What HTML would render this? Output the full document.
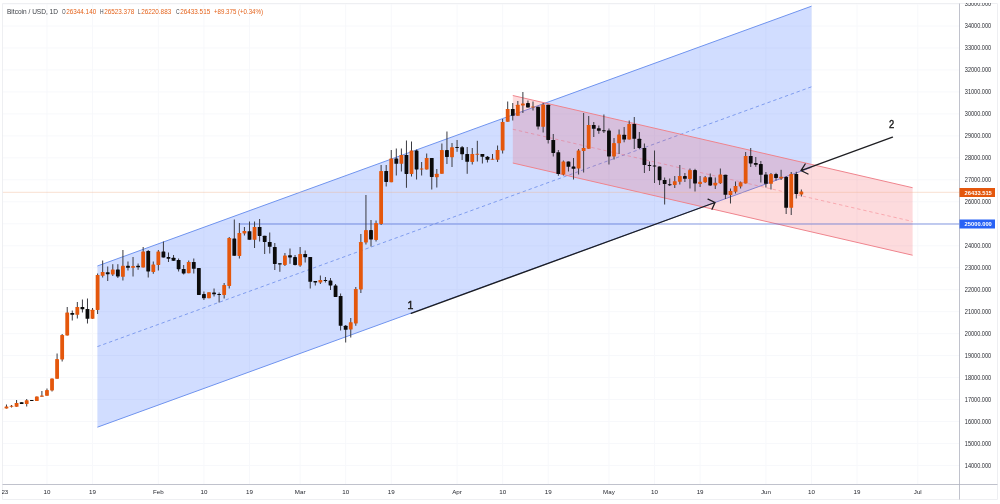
<!DOCTYPE html>
<html lang="en"><head><meta charset="utf-8"><title>Bitcoin / USD, 1D</title>
<style>html,body{margin:0;padding:0;background:#fff;}body{width:1000px;height:504px;overflow:hidden;}svg{display:block;}</style>
</head><body>
<svg width="1000" height="504" viewBox="0 0 1000 504" font-family='"Liberation Sans", Arial, sans-serif'>
<rect width="1000" height="504" fill="#fff"/>
<g style="filter:blur(0.4px)">
<path d="M2.5 465.50H959.5 M2.5 443.53H959.5 M2.5 421.55H959.5 M2.5 399.58H959.5 M2.5 377.60H959.5 M2.5 355.62H959.5 M2.5 333.65H959.5 M2.5 311.68H959.5 M2.5 289.70H959.5 M2.5 267.73H959.5 M2.5 245.75H959.5 M2.5 223.78H959.5 M2.5 201.80H959.5 M2.5 179.83H959.5 M2.5 157.85H959.5 M2.5 135.88H959.5 M2.5 113.90H959.5 M2.5 91.93H959.5 M2.5 69.95H959.5 M2.5 47.98H959.5 M2.5 26.00H959.5 M2.5 4.02H959.5 M46.97 3.5V484 M92.53 3.5V484 M158.35 3.5V484 M203.92 3.5V484 M249.49 3.5V484 M300.12 3.5V484 M345.68 3.5V484 M391.25 3.5V484 M457.07 3.5V484 M502.64 3.5V484 M548.20 3.5V484 M608.96 3.5V484 M654.53 3.5V484 M700.09 3.5V484 M765.91 3.5V484 M811.48 3.5V484 M857.05 3.5V484 M917.80 3.5V484" stroke="#f7f8fb" stroke-width="1" fill="none"/>
<polygon points="97.4,266.0 811.5,6.2 811.5,167.4 97.4,427.2" fill="rgba(41,98,255,0.215)"/>
<path d="M97.4 266.0L811.5 6.2M97.4 427.2L811.5 167.4" stroke="#6f93ee" stroke-width="1" fill="none"/>
<path d="M97.4 346.6L811.5 86.8" stroke="#7f9cee" stroke-width="1" stroke-dasharray="3.4 2.8" fill="none"/>
<polygon points="512.8,95.5 912.6,187.73 912.6,255.23 512.8,163.0" fill="rgba(242,54,69,0.18)"/>
<path d="M512.8 95.5L912.6 187.73M512.8 163.0L912.6 255.23" stroke="#ef848d" stroke-width="1" fill="none"/>
<path d="M512.8 129.25L912.6 221.48" stroke="rgba(242,80,95,0.36)" stroke-width="1" stroke-dasharray="3.4 2.8" fill="none"/>
<path d="M240 224H959.5" stroke="rgba(70,100,210,0.33)" stroke-width="1.9" fill="none"/>
<path d="M2.5 192.3H959.5" stroke="#eeb08c" stroke-width="0.8" stroke-dasharray="1 1" fill="none"/>
<path d="M1.40 408.5V409.5" stroke="#3a3a40" stroke-width="1"/>
<rect x="-0.50" y="408.5" width="3.8" height="1.00" fill="#e4570c" rx="0.4"/>
<path d="M6.46 404.5V408.5" stroke="#3a3a40" stroke-width="1"/>
<rect x="4.56" y="406.5" width="3.8" height="2.00" fill="#e4570c" rx="0.4"/>
<path d="M11.53 405.0V407.5" stroke="#3a3a40" stroke-width="1"/>
<rect x="9.63" y="405.8" width="3.8" height="1.00" fill="#e4570c" rx="0.4"/>
<path d="M16.59 400.0V406.8" stroke="#3a3a40" stroke-width="1"/>
<rect x="14.69" y="403.0" width="3.8" height="3.80" fill="#e4570c" rx="0.4"/>
<path d="M21.65 402.2V404.0" stroke="#3a3a40" stroke-width="1"/>
<rect x="19.75" y="402.2" width="3.8" height="1.80" fill="#0b0b0b" rx="0.4"/>
<path d="M26.71 399.0V406.5" stroke="#3a3a40" stroke-width="1"/>
<rect x="24.81" y="400.3" width="3.8" height="3.70" fill="#e4570c" rx="0.4"/>
<path d="M31.78 400.0V401.0" stroke="#3a3a40" stroke-width="1"/>
<rect x="29.88" y="400.0" width="3.8" height="1.00" fill="#0b0b0b" rx="0.4"/>
<path d="M36.84 396.5V401.0" stroke="#3a3a40" stroke-width="1"/>
<rect x="34.94" y="396.5" width="3.8" height="4.50" fill="#e4570c" rx="0.4"/>
<path d="M41.90 391.0V396.8" stroke="#3a3a40" stroke-width="1"/>
<rect x="40.00" y="395.5" width="3.8" height="1.30" fill="#e4570c" rx="0.4"/>
<path d="M46.97 388.5V395.8" stroke="#3a3a40" stroke-width="1"/>
<rect x="45.07" y="390.0" width="3.8" height="5.80" fill="#e4570c" rx="0.4"/>
<path d="M52.03 378.5V391.5" stroke="#3a3a40" stroke-width="1"/>
<rect x="50.13" y="378.5" width="3.8" height="12.00" fill="#e4570c" rx="0.4"/>
<path d="M57.09 353.5V378.8" stroke="#3a3a40" stroke-width="1"/>
<rect x="55.19" y="359.0" width="3.8" height="19.80" fill="#e4570c" rx="0.4"/>
<path d="M62.16 334.0V361.5" stroke="#3a3a40" stroke-width="1"/>
<rect x="60.26" y="335.0" width="3.8" height="24.50" fill="#e4570c" rx="0.4"/>
<path d="M67.22 307.0V335.5" stroke="#3a3a40" stroke-width="1"/>
<rect x="65.32" y="312.5" width="3.8" height="23.00" fill="#e4570c" rx="0.4"/>
<path d="M72.28 310.5V320.5" stroke="#3a3a40" stroke-width="1"/>
<rect x="70.38" y="313.0" width="3.8" height="1.80" fill="#0b0b0b" rx="0.4"/>
<path d="M77.34 302.0V318.5" stroke="#3a3a40" stroke-width="1"/>
<rect x="75.44" y="307.0" width="3.8" height="7.80" fill="#e4570c" rx="0.4"/>
<path d="M82.41 299.5V312.5" stroke="#3a3a40" stroke-width="1"/>
<rect x="80.51" y="307.0" width="3.8" height="2.30" fill="#0b0b0b" rx="0.4"/>
<path d="M87.47 298.5V323.5" stroke="#3a3a40" stroke-width="1"/>
<rect x="85.57" y="309.0" width="3.8" height="9.80" fill="#0b0b0b" rx="0.4"/>
<path d="M92.53 308.0V318.8" stroke="#3a3a40" stroke-width="1"/>
<rect x="90.63" y="309.8" width="3.8" height="9.00" fill="#e4570c" rx="0.4"/>
<path d="M97.60 273.5V314.0" stroke="#3a3a40" stroke-width="1"/>
<rect x="95.70" y="275.0" width="3.8" height="35.00" fill="#e4570c" rx="0.4"/>
<path d="M102.66 260.5V277.5" stroke="#3a3a40" stroke-width="1"/>
<rect x="100.76" y="272.0" width="3.8" height="3.80" fill="#e4570c" rx="0.4"/>
<path d="M107.72 266.5V281.0" stroke="#3a3a40" stroke-width="1"/>
<rect x="105.82" y="272.3" width="3.8" height="1.90" fill="#0b0b0b" rx="0.4"/>
<path d="M112.79 264.2V276.0" stroke="#3a3a40" stroke-width="1"/>
<rect x="110.89" y="269.5" width="3.8" height="5.00" fill="#e4570c" rx="0.4"/>
<path d="M117.85 264.2V278.0" stroke="#3a3a40" stroke-width="1"/>
<rect x="115.95" y="269.5" width="3.8" height="7.00" fill="#0b0b0b" rx="0.4"/>
<path d="M122.91 250.0V280.5" stroke="#3a3a40" stroke-width="1"/>
<rect x="121.01" y="265.8" width="3.8" height="11.00" fill="#e4570c" rx="0.4"/>
<path d="M127.97 261.5V270.5" stroke="#3a3a40" stroke-width="1"/>
<rect x="126.07" y="265.8" width="3.8" height="2.00" fill="#0b0b0b" rx="0.4"/>
<path d="M133.04 257.0V276.5" stroke="#3a3a40" stroke-width="1"/>
<rect x="131.14" y="266.0" width="3.8" height="1.80" fill="#e4570c" rx="0.4"/>
<path d="M138.10 263.5V269.8" stroke="#3a3a40" stroke-width="1"/>
<rect x="136.20" y="265.7" width="3.8" height="1.60" fill="#0b0b0b" rx="0.4"/>
<path d="M143.16 247.0V267.5" stroke="#3a3a40" stroke-width="1"/>
<rect x="141.26" y="251.5" width="3.8" height="16.00" fill="#e4570c" rx="0.4"/>
<path d="M148.23 250.0V277.5" stroke="#3a3a40" stroke-width="1"/>
<rect x="146.33" y="251.0" width="3.8" height="20.50" fill="#0b0b0b" rx="0.4"/>
<path d="M153.29 261.5V273.8" stroke="#3a3a40" stroke-width="1"/>
<rect x="151.39" y="264.5" width="3.8" height="7.50" fill="#e4570c" rx="0.4"/>
<path d="M158.35 250.0V270.5" stroke="#3a3a40" stroke-width="1"/>
<rect x="156.45" y="251.5" width="3.8" height="13.50" fill="#e4570c" rx="0.4"/>
<path d="M163.42 241.5V257.5" stroke="#3a3a40" stroke-width="1"/>
<rect x="161.52" y="251.5" width="3.8" height="6.00" fill="#0b0b0b" rx="0.4"/>
<path d="M168.48 252.5V262.0" stroke="#3a3a40" stroke-width="1"/>
<rect x="166.58" y="257.0" width="3.8" height="1.70" fill="#0b0b0b" rx="0.4"/>
<path d="M173.54 255.0V261.0" stroke="#3a3a40" stroke-width="1"/>
<rect x="171.64" y="257.8" width="3.8" height="3.00" fill="#0b0b0b" rx="0.4"/>
<path d="M178.60 258.5V271.5" stroke="#3a3a40" stroke-width="1"/>
<rect x="176.70" y="260.0" width="3.8" height="9.20" fill="#0b0b0b" rx="0.4"/>
<path d="M183.67 265.0V274.5" stroke="#3a3a40" stroke-width="1"/>
<rect x="181.77" y="269.0" width="3.8" height="4.50" fill="#0b0b0b" rx="0.4"/>
<path d="M188.73 260.5V273.2" stroke="#3a3a40" stroke-width="1"/>
<rect x="186.83" y="262.0" width="3.8" height="11.20" fill="#e4570c" rx="0.4"/>
<path d="M193.79 258.5V273.5" stroke="#3a3a40" stroke-width="1"/>
<rect x="191.89" y="262.0" width="3.8" height="6.80" fill="#0b0b0b" rx="0.4"/>
<path d="M198.86 268.0V295.0" stroke="#3a3a40" stroke-width="1"/>
<rect x="196.96" y="268.0" width="3.8" height="27.00" fill="#0b0b0b" rx="0.4"/>
<path d="M203.92 291.5V300.0" stroke="#3a3a40" stroke-width="1"/>
<rect x="202.02" y="294.0" width="3.8" height="4.20" fill="#0b0b0b" rx="0.4"/>
<path d="M208.98 292.2V298.2" stroke="#3a3a40" stroke-width="1"/>
<rect x="207.08" y="292.2" width="3.8" height="6.00" fill="#e4570c" rx="0.4"/>
<path d="M214.05 288.5V296.5" stroke="#3a3a40" stroke-width="1"/>
<rect x="212.15" y="292.5" width="3.8" height="1.80" fill="#0b0b0b" rx="0.4"/>
<path d="M219.11 292.5V302.5" stroke="#3a3a40" stroke-width="1"/>
<rect x="217.21" y="294.0" width="3.8" height="1.00" fill="#0b0b0b" rx="0.4"/>
<path d="M224.17 283.0V298.5" stroke="#3a3a40" stroke-width="1"/>
<rect x="222.27" y="285.0" width="3.8" height="10.00" fill="#e4570c" rx="0.4"/>
<path d="M229.23 237.0V288.5" stroke="#3a3a40" stroke-width="1"/>
<rect x="227.33" y="238.0" width="3.8" height="48.00" fill="#e4570c" rx="0.4"/>
<path d="M234.30 219.5V255.8" stroke="#3a3a40" stroke-width="1"/>
<rect x="232.40" y="238.5" width="3.8" height="17.30" fill="#0b0b0b" rx="0.4"/>
<path d="M239.36 223.0V258.5" stroke="#3a3a40" stroke-width="1"/>
<rect x="237.46" y="233.0" width="3.8" height="23.00" fill="#e4570c" rx="0.4"/>
<path d="M244.42 227.0V235.5" stroke="#3a3a40" stroke-width="1"/>
<rect x="242.52" y="231.0" width="3.8" height="2.50" fill="#e4570c" rx="0.4"/>
<path d="M249.49 221.5V239.8" stroke="#3a3a40" stroke-width="1"/>
<rect x="247.59" y="231.2" width="3.8" height="8.60" fill="#0b0b0b" rx="0.4"/>
<path d="M254.55 221.5V248.0" stroke="#3a3a40" stroke-width="1"/>
<rect x="252.65" y="227.0" width="3.8" height="12.80" fill="#e4570c" rx="0.4"/>
<path d="M259.61 219.0V241.5" stroke="#3a3a40" stroke-width="1"/>
<rect x="257.71" y="227.0" width="3.8" height="9.00" fill="#0b0b0b" rx="0.4"/>
<path d="M264.68 235.8V254.0" stroke="#3a3a40" stroke-width="1"/>
<rect x="262.78" y="235.8" width="3.8" height="6.20" fill="#0b0b0b" rx="0.4"/>
<path d="M269.74 232.5V253.5" stroke="#3a3a40" stroke-width="1"/>
<rect x="267.84" y="242.0" width="3.8" height="4.80" fill="#0b0b0b" rx="0.4"/>
<path d="M274.80 243.0V270.0" stroke="#3a3a40" stroke-width="1"/>
<rect x="272.90" y="247.0" width="3.8" height="17.00" fill="#0b0b0b" rx="0.4"/>
<path d="M279.86 263.2V271.8" stroke="#3a3a40" stroke-width="1"/>
<rect x="277.96" y="263.2" width="3.8" height="1.30" fill="#0b0b0b" rx="0.4"/>
<path d="M284.93 253.0V266.0" stroke="#3a3a40" stroke-width="1"/>
<rect x="283.03" y="255.5" width="3.8" height="9.50" fill="#e4570c" rx="0.4"/>
<path d="M289.99 248.5V263.8" stroke="#3a3a40" stroke-width="1"/>
<rect x="288.09" y="255.2" width="3.8" height="2.30" fill="#0b0b0b" rx="0.4"/>
<path d="M295.05 255.0V265.5" stroke="#3a3a40" stroke-width="1"/>
<rect x="293.15" y="257.0" width="3.8" height="8.00" fill="#0b0b0b" rx="0.4"/>
<path d="M300.12 247.0V266.8" stroke="#3a3a40" stroke-width="1"/>
<rect x="298.22" y="254.0" width="3.8" height="11.50" fill="#e4570c" rx="0.4"/>
<path d="M305.18 250.5V262.5" stroke="#3a3a40" stroke-width="1"/>
<rect x="303.28" y="254.0" width="3.8" height="3.20" fill="#0b0b0b" rx="0.4"/>
<path d="M310.24 257.0V288.5" stroke="#3a3a40" stroke-width="1"/>
<rect x="308.34" y="257.0" width="3.8" height="24.80" fill="#0b0b0b" rx="0.4"/>
<path d="M315.31 281.0V285.5" stroke="#3a3a40" stroke-width="1"/>
<rect x="313.41" y="281.0" width="3.8" height="1.50" fill="#0b0b0b" rx="0.4"/>
<path d="M320.37 275.5V284.0" stroke="#3a3a40" stroke-width="1"/>
<rect x="318.47" y="280.0" width="3.8" height="2.50" fill="#e4570c" rx="0.4"/>
<path d="M325.43 277.0V282.5" stroke="#3a3a40" stroke-width="1"/>
<rect x="323.53" y="280.0" width="3.8" height="1.00" fill="#0b0b0b" rx="0.4"/>
<path d="M330.49 278.0V290.0" stroke="#3a3a40" stroke-width="1"/>
<rect x="328.59" y="280.5" width="3.8" height="5.00" fill="#0b0b0b" rx="0.4"/>
<path d="M335.56 284.0V297.0" stroke="#3a3a40" stroke-width="1"/>
<rect x="333.66" y="285.5" width="3.8" height="11.50" fill="#0b0b0b" rx="0.4"/>
<path d="M340.62 293.5V330.5" stroke="#3a3a40" stroke-width="1"/>
<rect x="338.72" y="296.0" width="3.8" height="29.80" fill="#0b0b0b" rx="0.4"/>
<path d="M345.68 325.0V342.5" stroke="#3a3a40" stroke-width="1"/>
<rect x="343.78" y="325.8" width="3.8" height="4.00" fill="#0b0b0b" rx="0.4"/>
<path d="M350.75 318.0V337.5" stroke="#3a3a40" stroke-width="1"/>
<rect x="348.85" y="322.2" width="3.8" height="7.30" fill="#e4570c" rx="0.4"/>
<path d="M355.81 287.0V325.8" stroke="#3a3a40" stroke-width="1"/>
<rect x="353.91" y="289.0" width="3.8" height="34.50" fill="#e4570c" rx="0.4"/>
<path d="M360.87 234.0V293.0" stroke="#3a3a40" stroke-width="1"/>
<rect x="358.97" y="242.0" width="3.8" height="47.50" fill="#e4570c" rx="0.4"/>
<path d="M365.94 195.0V244.5" stroke="#3a3a40" stroke-width="1"/>
<rect x="364.04" y="230.0" width="3.8" height="12.50" fill="#e4570c" rx="0.4"/>
<path d="M371.00 220.0V246.5" stroke="#3a3a40" stroke-width="1"/>
<rect x="369.10" y="230.0" width="3.8" height="9.50" fill="#0b0b0b" rx="0.4"/>
<path d="M376.06 220.5V241.5" stroke="#3a3a40" stroke-width="1"/>
<rect x="374.16" y="223.0" width="3.8" height="17.00" fill="#e4570c" rx="0.4"/>
<path d="M381.12 165.0V225.0" stroke="#3a3a40" stroke-width="1"/>
<rect x="379.22" y="171.0" width="3.8" height="53.00" fill="#e4570c" rx="0.4"/>
<path d="M386.19 165.0V186.5" stroke="#3a3a40" stroke-width="1"/>
<rect x="384.29" y="171.0" width="3.8" height="11.00" fill="#0b0b0b" rx="0.4"/>
<path d="M391.25 150.0V182.2" stroke="#3a3a40" stroke-width="1"/>
<rect x="389.35" y="158.5" width="3.8" height="23.70" fill="#e4570c" rx="0.4"/>
<path d="M396.31 148.5V175.5" stroke="#3a3a40" stroke-width="1"/>
<rect x="394.41" y="158.5" width="3.8" height="5.30" fill="#0b0b0b" rx="0.4"/>
<path d="M401.38 148.5V171.5" stroke="#3a3a40" stroke-width="1"/>
<rect x="399.48" y="155.0" width="3.8" height="8.80" fill="#e4570c" rx="0.4"/>
<path d="M406.44 140.5V187.8" stroke="#3a3a40" stroke-width="1"/>
<rect x="404.54" y="155.0" width="3.8" height="19.00" fill="#0b0b0b" rx="0.4"/>
<path d="M411.50 141.5V176.5" stroke="#3a3a40" stroke-width="1"/>
<rect x="409.60" y="150.5" width="3.8" height="23.50" fill="#e4570c" rx="0.4"/>
<path d="M416.57 149.5V179.5" stroke="#3a3a40" stroke-width="1"/>
<rect x="414.67" y="150.5" width="3.8" height="19.00" fill="#0b0b0b" rx="0.4"/>
<path d="M421.63 162.0V175.5" stroke="#3a3a40" stroke-width="1"/>
<rect x="419.73" y="168.5" width="3.8" height="1.00" fill="#e4570c" rx="0.4"/>
<path d="M426.69 153.5V169.5" stroke="#3a3a40" stroke-width="1"/>
<rect x="424.79" y="158.0" width="3.8" height="11.50" fill="#e4570c" rx="0.4"/>
<path d="M431.75 158.0V189.5" stroke="#3a3a40" stroke-width="1"/>
<rect x="429.85" y="158.0" width="3.8" height="19.00" fill="#0b0b0b" rx="0.4"/>
<path d="M436.82 169.0V187.5" stroke="#3a3a40" stroke-width="1"/>
<rect x="434.92" y="173.8" width="3.8" height="3.40" fill="#e4570c" rx="0.4"/>
<path d="M441.88 143.5V173.8" stroke="#3a3a40" stroke-width="1"/>
<rect x="439.98" y="150.0" width="3.8" height="23.80" fill="#e4570c" rx="0.4"/>
<path d="M446.94 131.5V164.0" stroke="#3a3a40" stroke-width="1"/>
<rect x="445.04" y="150.0" width="3.8" height="7.00" fill="#0b0b0b" rx="0.4"/>
<path d="M452.01 143.0V167.0" stroke="#3a3a40" stroke-width="1"/>
<rect x="450.11" y="147.2" width="3.8" height="10.00" fill="#e4570c" rx="0.4"/>
<path d="M457.07 140.0V151.8" stroke="#3a3a40" stroke-width="1"/>
<rect x="455.17" y="147.0" width="3.8" height="1.00" fill="#0b0b0b" rx="0.4"/>
<path d="M462.13 146.0V160.0" stroke="#3a3a40" stroke-width="1"/>
<rect x="460.23" y="147.2" width="3.8" height="7.00" fill="#0b0b0b" rx="0.4"/>
<path d="M467.20 147.0V173.8" stroke="#3a3a40" stroke-width="1"/>
<rect x="465.30" y="154.0" width="3.8" height="7.80" fill="#0b0b0b" rx="0.4"/>
<path d="M472.26 148.0V164.5" stroke="#3a3a40" stroke-width="1"/>
<rect x="470.36" y="154.0" width="3.8" height="8.00" fill="#e4570c" rx="0.4"/>
<path d="M477.32 140.8V161.5" stroke="#3a3a40" stroke-width="1"/>
<rect x="475.42" y="153.8" width="3.8" height="1.00" fill="#e4570c" rx="0.4"/>
<path d="M482.38 154.0V163.5" stroke="#3a3a40" stroke-width="1"/>
<rect x="480.48" y="154.0" width="3.8" height="2.80" fill="#0b0b0b" rx="0.4"/>
<path d="M487.45 156.0V162.5" stroke="#3a3a40" stroke-width="1"/>
<rect x="485.55" y="156.8" width="3.8" height="3.00" fill="#0b0b0b" rx="0.4"/>
<path d="M492.51 154.0V159.8" stroke="#3a3a40" stroke-width="1"/>
<rect x="490.61" y="158.8" width="3.8" height="1.00" fill="#e4570c" rx="0.4"/>
<path d="M497.57 145.5V162.0" stroke="#3a3a40" stroke-width="1"/>
<rect x="495.67" y="150.0" width="3.8" height="9.80" fill="#e4570c" rx="0.4"/>
<path d="M502.64 119.0V153.5" stroke="#3a3a40" stroke-width="1"/>
<rect x="500.74" y="122.0" width="3.8" height="28.50" fill="#e4570c" rx="0.4"/>
<path d="M507.70 101.5V121.8" stroke="#3a3a40" stroke-width="1"/>
<rect x="505.80" y="109.0" width="3.8" height="12.80" fill="#e4570c" rx="0.4"/>
<path d="M512.76 103.0V120.5" stroke="#3a3a40" stroke-width="1"/>
<rect x="510.86" y="109.0" width="3.8" height="6.80" fill="#0b0b0b" rx="0.4"/>
<path d="M517.83 101.0V115.8" stroke="#3a3a40" stroke-width="1"/>
<rect x="515.93" y="104.8" width="3.8" height="11.00" fill="#e4570c" rx="0.4"/>
<path d="M522.89 92.0V113.0" stroke="#3a3a40" stroke-width="1"/>
<rect x="520.99" y="103.5" width="3.8" height="2.00" fill="#e4570c" rx="0.4"/>
<path d="M527.95 100.5V107.5" stroke="#3a3a40" stroke-width="1"/>
<rect x="526.05" y="103.0" width="3.8" height="4.50" fill="#0b0b0b" rx="0.4"/>
<path d="M533.01 101.5V110.5" stroke="#3a3a40" stroke-width="1"/>
<rect x="531.12" y="106.5" width="3.8" height="1.00" fill="#e4570c" rx="0.4"/>
<path d="M538.08 106.8V129.5" stroke="#3a3a40" stroke-width="1"/>
<rect x="536.18" y="106.8" width="3.8" height="19.80" fill="#0b0b0b" rx="0.4"/>
<path d="M543.14 103.0V132.5" stroke="#3a3a40" stroke-width="1"/>
<rect x="541.24" y="104.5" width="3.8" height="22.30" fill="#e4570c" rx="0.4"/>
<path d="M548.20 104.8V143.5" stroke="#3a3a40" stroke-width="1"/>
<rect x="546.30" y="104.8" width="3.8" height="35.20" fill="#0b0b0b" rx="0.4"/>
<path d="M553.27 134.0V156.5" stroke="#3a3a40" stroke-width="1"/>
<rect x="551.37" y="140.0" width="3.8" height="13.00" fill="#0b0b0b" rx="0.4"/>
<path d="M558.33 150.0V175.8" stroke="#3a3a40" stroke-width="1"/>
<rect x="556.43" y="152.2" width="3.8" height="21.80" fill="#0b0b0b" rx="0.4"/>
<path d="M563.39 160.5V175.5" stroke="#3a3a40" stroke-width="1"/>
<rect x="561.49" y="161.5" width="3.8" height="13.00" fill="#e4570c" rx="0.4"/>
<path d="M568.46 161.5V171.5" stroke="#3a3a40" stroke-width="1"/>
<rect x="566.56" y="161.5" width="3.8" height="5.30" fill="#0b0b0b" rx="0.4"/>
<path d="M573.52 158.0V179.5" stroke="#3a3a40" stroke-width="1"/>
<rect x="571.62" y="166.5" width="3.8" height="2.30" fill="#0b0b0b" rx="0.4"/>
<path d="M578.58 149.0V174.5" stroke="#3a3a40" stroke-width="1"/>
<rect x="576.68" y="150.5" width="3.8" height="18.00" fill="#e4570c" rx="0.4"/>
<path d="M583.64 113.0V172.5" stroke="#3a3a40" stroke-width="1"/>
<rect x="581.75" y="148.0" width="3.8" height="3.00" fill="#e4570c" rx="0.4"/>
<path d="M588.71 116.0V148.8" stroke="#3a3a40" stroke-width="1"/>
<rect x="586.81" y="125.0" width="3.8" height="23.80" fill="#e4570c" rx="0.4"/>
<path d="M593.77 122.0V137.0" stroke="#3a3a40" stroke-width="1"/>
<rect x="591.87" y="125.0" width="3.8" height="3.80" fill="#0b0b0b" rx="0.4"/>
<path d="M598.83 125.5V133.8" stroke="#3a3a40" stroke-width="1"/>
<rect x="596.93" y="128.2" width="3.8" height="2.60" fill="#0b0b0b" rx="0.4"/>
<path d="M603.90 114.5V133.0" stroke="#3a3a40" stroke-width="1"/>
<rect x="602.00" y="130.3" width="3.8" height="1.00" fill="#0b0b0b" rx="0.4"/>
<path d="M608.96 128.5V164.5" stroke="#3a3a40" stroke-width="1"/>
<rect x="607.06" y="130.5" width="3.8" height="26.00" fill="#0b0b0b" rx="0.4"/>
<path d="M614.02 138.0V159.5" stroke="#3a3a40" stroke-width="1"/>
<rect x="612.12" y="143.0" width="3.8" height="13.50" fill="#e4570c" rx="0.4"/>
<path d="M619.09 129.5V154.0" stroke="#3a3a40" stroke-width="1"/>
<rect x="617.19" y="134.5" width="3.8" height="8.80" fill="#e4570c" rx="0.4"/>
<path d="M624.15 127.0V142.3" stroke="#3a3a40" stroke-width="1"/>
<rect x="622.25" y="134.8" width="3.8" height="4.80" fill="#0b0b0b" rx="0.4"/>
<path d="M629.21 120.5V139.5" stroke="#3a3a40" stroke-width="1"/>
<rect x="627.31" y="124.0" width="3.8" height="15.50" fill="#e4570c" rx="0.4"/>
<path d="M634.27 117.0V149.0" stroke="#3a3a40" stroke-width="1"/>
<rect x="632.38" y="124.0" width="3.8" height="14.80" fill="#0b0b0b" rx="0.4"/>
<path d="M639.34 132.0V149.0" stroke="#3a3a40" stroke-width="1"/>
<rect x="637.44" y="138.8" width="3.8" height="9.20" fill="#0b0b0b" rx="0.4"/>
<path d="M644.40 143.5V173.0" stroke="#3a3a40" stroke-width="1"/>
<rect x="642.50" y="148.0" width="3.8" height="17.00" fill="#0b0b0b" rx="0.4"/>
<path d="M649.46 161.5V171.0" stroke="#3a3a40" stroke-width="1"/>
<rect x="647.56" y="165.0" width="3.8" height="1.00" fill="#0b0b0b" rx="0.4"/>
<path d="M654.53 150.5V183.0" stroke="#3a3a40" stroke-width="1"/>
<rect x="652.63" y="165.5" width="3.8" height="1.00" fill="#0b0b0b" rx="0.4"/>
<path d="M659.59 166.5V185.0" stroke="#3a3a40" stroke-width="1"/>
<rect x="657.69" y="166.5" width="3.8" height="13.70" fill="#0b0b0b" rx="0.4"/>
<path d="M664.65 177.5V204.5" stroke="#3a3a40" stroke-width="1"/>
<rect x="662.75" y="180.0" width="3.8" height="4.00" fill="#0b0b0b" rx="0.4"/>
<path d="M669.72 178.5V186.0" stroke="#3a3a40" stroke-width="1"/>
<rect x="667.82" y="184.2" width="3.8" height="1.00" fill="#0b0b0b" rx="0.4"/>
<path d="M674.78 176.0V188.0" stroke="#3a3a40" stroke-width="1"/>
<rect x="672.88" y="181.2" width="3.8" height="3.80" fill="#e4570c" rx="0.4"/>
<path d="M679.84 165.0V184.5" stroke="#3a3a40" stroke-width="1"/>
<rect x="677.94" y="176.0" width="3.8" height="5.80" fill="#e4570c" rx="0.4"/>
<path d="M684.90 173.0V182.0" stroke="#3a3a40" stroke-width="1"/>
<rect x="683.00" y="176.0" width="3.8" height="2.80" fill="#0b0b0b" rx="0.4"/>
<path d="M689.97 168.5V188.5" stroke="#3a3a40" stroke-width="1"/>
<rect x="688.07" y="170.0" width="3.8" height="9.00" fill="#e4570c" rx="0.4"/>
<path d="M695.03 168.8V191.5" stroke="#3a3a40" stroke-width="1"/>
<rect x="693.13" y="170.0" width="3.8" height="13.50" fill="#0b0b0b" rx="0.4"/>
<path d="M700.09 176.0V187.0" stroke="#3a3a40" stroke-width="1"/>
<rect x="698.19" y="181.8" width="3.8" height="2.20" fill="#e4570c" rx="0.4"/>
<path d="M705.16 176.0V183.0" stroke="#3a3a40" stroke-width="1"/>
<rect x="703.26" y="177.2" width="3.8" height="5.00" fill="#e4570c" rx="0.4"/>
<path d="M710.22 173.5V186.0" stroke="#3a3a40" stroke-width="1"/>
<rect x="708.32" y="177.2" width="3.8" height="8.30" fill="#0b0b0b" rx="0.4"/>
<path d="M715.28 177.5V189.0" stroke="#3a3a40" stroke-width="1"/>
<rect x="713.38" y="182.8" width="3.8" height="2.70" fill="#e4570c" rx="0.4"/>
<path d="M720.35 168.5V184.0" stroke="#3a3a40" stroke-width="1"/>
<rect x="718.45" y="174.5" width="3.8" height="8.70" fill="#e4570c" rx="0.4"/>
<path d="M725.41 174.8V199.0" stroke="#3a3a40" stroke-width="1"/>
<rect x="723.51" y="174.8" width="3.8" height="20.00" fill="#0b0b0b" rx="0.4"/>
<path d="M730.47 188.5V203.5" stroke="#3a3a40" stroke-width="1"/>
<rect x="728.57" y="191.0" width="3.8" height="4.00" fill="#e4570c" rx="0.4"/>
<path d="M735.53 181.5V193.5" stroke="#3a3a40" stroke-width="1"/>
<rect x="733.63" y="186.0" width="3.8" height="5.80" fill="#e4570c" rx="0.4"/>
<path d="M740.60 181.5V188.5" stroke="#3a3a40" stroke-width="1"/>
<rect x="738.70" y="182.2" width="3.8" height="4.30" fill="#e4570c" rx="0.4"/>
<path d="M745.66 152.0V183.5" stroke="#3a3a40" stroke-width="1"/>
<rect x="743.76" y="156.0" width="3.8" height="27.50" fill="#e4570c" rx="0.4"/>
<path d="M750.72 148.0V167.0" stroke="#3a3a40" stroke-width="1"/>
<rect x="748.82" y="156.0" width="3.8" height="7.50" fill="#0b0b0b" rx="0.4"/>
<path d="M755.79 157.0V166.8" stroke="#3a3a40" stroke-width="1"/>
<rect x="753.89" y="163.0" width="3.8" height="1.80" fill="#0b0b0b" rx="0.4"/>
<path d="M760.85 161.0V182.5" stroke="#3a3a40" stroke-width="1"/>
<rect x="758.95" y="164.0" width="3.8" height="10.80" fill="#0b0b0b" rx="0.4"/>
<path d="M765.91 172.0V187.5" stroke="#3a3a40" stroke-width="1"/>
<rect x="764.01" y="174.5" width="3.8" height="9.30" fill="#0b0b0b" rx="0.4"/>
<path d="M770.98 173.0V189.5" stroke="#3a3a40" stroke-width="1"/>
<rect x="769.08" y="174.0" width="3.8" height="9.80" fill="#e4570c" rx="0.4"/>
<path d="M776.04 172.8V180.5" stroke="#3a3a40" stroke-width="1"/>
<rect x="774.14" y="174.0" width="3.8" height="4.00" fill="#0b0b0b" rx="0.4"/>
<path d="M781.10 169.8V180.0" stroke="#3a3a40" stroke-width="1"/>
<rect x="779.20" y="176.8" width="3.8" height="1.70" fill="#e4570c" rx="0.4"/>
<path d="M786.16 176.0V214.0" stroke="#3a3a40" stroke-width="1"/>
<rect x="784.26" y="177.0" width="3.8" height="30.80" fill="#0b0b0b" rx="0.4"/>
<path d="M791.23 172.0V215.0" stroke="#3a3a40" stroke-width="1"/>
<rect x="789.33" y="174.0" width="3.8" height="33.80" fill="#e4570c" rx="0.4"/>
<path d="M796.29 171.8V198.5" stroke="#3a3a40" stroke-width="1"/>
<rect x="794.39" y="174.0" width="3.8" height="20.00" fill="#0b0b0b" rx="0.4"/>
<path d="M801.35 189.5V196.5" stroke="#3a3a40" stroke-width="1"/>
<rect x="799.45" y="191.5" width="3.8" height="3.00" fill="#e4570c" rx="0.4"/>
<g stroke="#1e1e22" stroke-width="1.3" fill="none" stroke-linecap="round">
<path d="M411.2 313.3L715 202.5M708 199.2L715 202.5L712 209.2"/>
<path d="M892.5 137.2L801 170.6M805.2 164L801 170.6L808 174"/>
</g>
<text x="410.3" y="309.3" font-size="10.5" text-anchor="middle" fill="#222" stroke="#222" stroke-width="0.45">1</text>
<text x="891.5" y="128" font-size="11" text-anchor="middle" fill="#222" stroke="#222" stroke-width="0.45" textLength="5.2" lengthAdjust="spacingAndGlyphs">2</text>
<rect x="960" y="0" width="40" height="504" fill="#fff"/>
<rect x="0" y="484.5" width="1000" height="20" fill="#fff"/>
<rect x="0" y="0" width="2.2" height="504" fill="#fff"/>
<path d="M2.5 3.5H997.5V499.5H2.5Z" stroke="#ecedf1" stroke-width="0.9" fill="none"/>
<path d="M959.5 3.5V499.5" stroke="#b0b3bf" stroke-width="0.8" fill="none"/>
<path d="M2.5 484.5H997.5" stroke="#b0b3bf" stroke-width="0.8" fill="none"/>
</g>
<g style="filter:blur(0.22px)">
<g font-size="6.4" fill="#26282f">
<text x="964.8" y="467.50" textLength="26.4" lengthAdjust="spacingAndGlyphs">14000.000</text>
<text x="964.8" y="445.53" textLength="26.4" lengthAdjust="spacingAndGlyphs">15000.000</text>
<text x="964.8" y="423.55" textLength="26.4" lengthAdjust="spacingAndGlyphs">16000.000</text>
<text x="964.8" y="401.58" textLength="26.4" lengthAdjust="spacingAndGlyphs">17000.000</text>
<text x="964.8" y="379.60" textLength="26.4" lengthAdjust="spacingAndGlyphs">18000.000</text>
<text x="964.8" y="357.62" textLength="26.4" lengthAdjust="spacingAndGlyphs">19000.000</text>
<text x="964.8" y="335.65" textLength="26.4" lengthAdjust="spacingAndGlyphs">20000.000</text>
<text x="964.8" y="313.68" textLength="26.4" lengthAdjust="spacingAndGlyphs">21000.000</text>
<text x="964.8" y="291.70" textLength="26.4" lengthAdjust="spacingAndGlyphs">22000.000</text>
<text x="964.8" y="269.73" textLength="26.4" lengthAdjust="spacingAndGlyphs">23000.000</text>
<text x="964.8" y="247.75" textLength="26.4" lengthAdjust="spacingAndGlyphs">24000.000</text>
<text x="964.8" y="225.78" textLength="26.4" lengthAdjust="spacingAndGlyphs">25000.000</text>
<text x="964.8" y="203.80" textLength="26.4" lengthAdjust="spacingAndGlyphs">26000.000</text>
<text x="964.8" y="181.83" textLength="26.4" lengthAdjust="spacingAndGlyphs">27000.000</text>
<text x="964.8" y="159.85" textLength="26.4" lengthAdjust="spacingAndGlyphs">28000.000</text>
<text x="964.8" y="137.88" textLength="26.4" lengthAdjust="spacingAndGlyphs">29000.000</text>
<text x="964.8" y="115.90" textLength="26.4" lengthAdjust="spacingAndGlyphs">30000.000</text>
<text x="964.8" y="93.93" textLength="26.4" lengthAdjust="spacingAndGlyphs">31000.000</text>
<text x="964.8" y="71.95" textLength="26.4" lengthAdjust="spacingAndGlyphs">32000.000</text>
<text x="964.8" y="49.98" textLength="26.4" lengthAdjust="spacingAndGlyphs">33000.000</text>
<text x="964.8" y="28.00" textLength="26.4" lengthAdjust="spacingAndGlyphs">34000.000</text>
<text x="964.8" y="6.02" textLength="26.4" lengthAdjust="spacingAndGlyphs">35000.000</text>
</g>
<rect x="960.5" y="0" width="36.5" height="3" fill="#fff"/>
<rect x="959.5" y="188" width="35.5" height="9" fill="#e4570c"/>
<text x="964.6" y="194.8" font-size="6.2" font-weight="bold" fill="#fff" textLength="27.2" lengthAdjust="spacingAndGlyphs">26433.515</text>
<rect x="959.5" y="219.5" width="35.5" height="9" fill="#2962f5"/>
<text x="964.6" y="226.3" font-size="6.2" font-weight="bold" fill="#fff" textLength="27.2" lengthAdjust="spacingAndGlyphs">25000.000</text>
<g font-size="6.2" fill="#26282f" text-anchor="middle">
<text x="1.40" y="493.8">2023</text>
<text x="46.97" y="493.8">10</text>
<text x="92.53" y="493.8">19</text>
<text x="158.35" y="493.8">Feb</text>
<text x="203.92" y="493.8">10</text>
<text x="249.49" y="493.8">19</text>
<text x="300.12" y="493.8">Mar</text>
<text x="345.68" y="493.8">10</text>
<text x="391.25" y="493.8">19</text>
<text x="457.07" y="493.8">Apr</text>
<text x="502.64" y="493.8">10</text>
<text x="548.20" y="493.8">19</text>
<text x="608.96" y="493.8">May</text>
<text x="654.53" y="493.8">10</text>
<text x="700.09" y="493.8">19</text>
<text x="765.91" y="493.8">Jun</text>
<text x="811.48" y="493.8">10</text>
<text x="857.05" y="493.8">19</text>
<text x="917.80" y="493.8">Jul</text>
</g>
<rect x="0" y="485.5" width="2" height="13" fill="#fff"/>
<g font-size="7.3">
<text x="7" y="14" fill="#3c3f46" textLength="51" lengthAdjust="spacingAndGlyphs">Bitcoin / USD, 1D</text>
<text x="62" y="14" fill="#3c3f46" textLength="3.6" lengthAdjust="spacingAndGlyphs">O</text>
<text x="66.19999999999999" y="14" fill="#e4631c" textLength="30" lengthAdjust="spacingAndGlyphs">26344.140</text>
<text x="100" y="14" fill="#3c3f46" textLength="3.6" lengthAdjust="spacingAndGlyphs">H</text>
<text x="104.19999999999999" y="14" fill="#e4631c" textLength="30" lengthAdjust="spacingAndGlyphs">26523.378</text>
<text x="138" y="14" fill="#3c3f46" textLength="2.6" lengthAdjust="spacingAndGlyphs">L</text>
<text x="141.2" y="14" fill="#e4631c" textLength="30" lengthAdjust="spacingAndGlyphs">26220.883</text>
<text x="176" y="14" fill="#3c3f46" textLength="3.6" lengthAdjust="spacingAndGlyphs">C</text>
<text x="180.2" y="14" fill="#e4631c" textLength="30" lengthAdjust="spacingAndGlyphs">26433.515</text>
<text x="214" y="14" fill="#e4631c" textLength="49" lengthAdjust="spacingAndGlyphs">+89.375 (+0.34%)</text>
</g>
</g>
</svg>
</body></html>
